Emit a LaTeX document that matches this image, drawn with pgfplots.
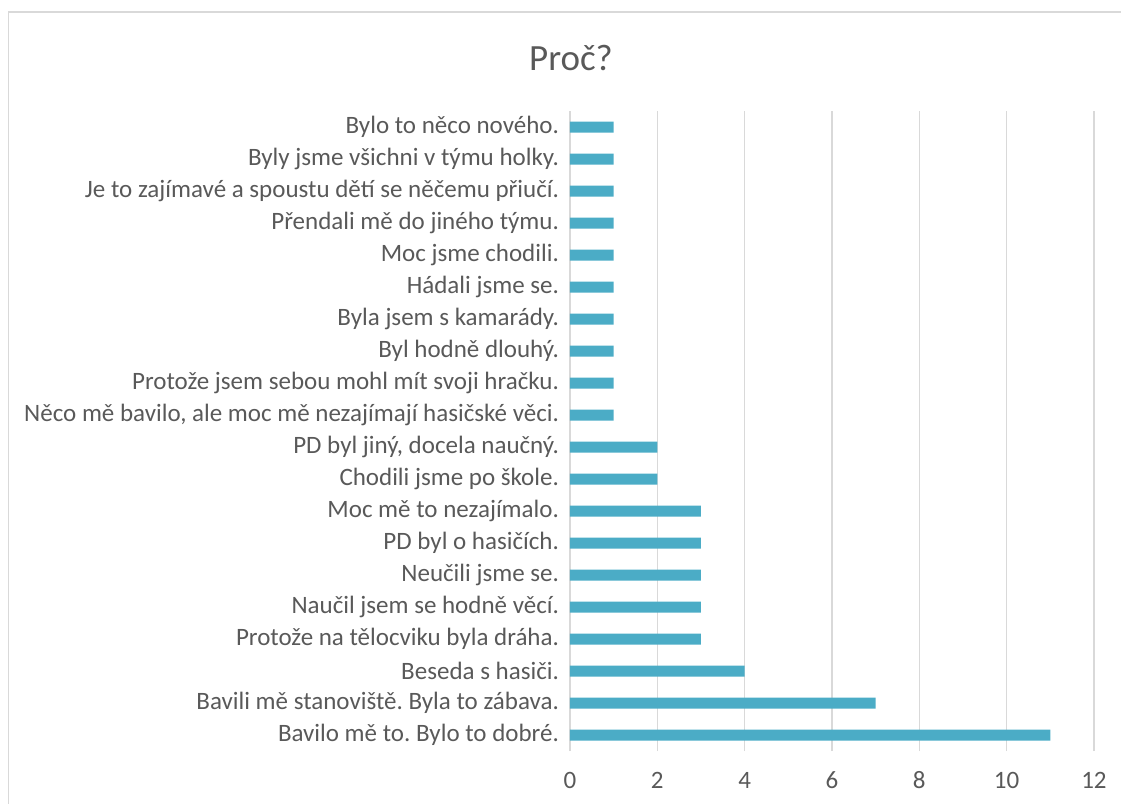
\documentclass[border=0pt]{standalone}
\usepackage{fontspec}
\setmainfont{Carlito}
\usepackage{pgfplots}
\pgfplotsset{compat=1.18}
\definecolor{barc}{HTML}{4BACC6}
\definecolor{txt}{HTML}{595959}
\definecolor{gridc}{HTML}{D9D9D9}
\frenchspacing
\begin{document}
\begin{tikzpicture}[x=1pt,y=1pt]
% 1 px = 0.5 pt; origin = lower left of the plot area
\useasboundingbox (-285pt,-26.5pt) rectangle (275.5pt,375.5pt);
\draw[gridc, line width=0.9pt] (-280.75pt,-26.5pt) -- (-280.75pt,369.5pt) -- (275.5pt,369.5pt);
\begin{axis}[
  at={(0pt,0pt)}, anchor=south west,
  scale only axis,
  width=262pt, height=320pt,
  xbar, bar width=5.5pt,
  xmin=0, xmax=12,
  xtick={0,2,...,12},
  ymin=-0.5, ymax=19.5,
  ytick={0,...,19},
  yticklabels={
    Bavilo mě to. Bylo to dobré.,
    Bavili mě stanoviště. Byla to zábava.,
    Beseda s hasiči.,
    Protože na tělocviku byla dráha.,
    Naučil jsem se hodně věcí.,
    Neučili jsme se.,
    PD byl o hasičích.,
    Moc mě to nezajímalo.,
    Chodili jsme po škole.,
    {PD byl jiný, docela naučný.},
    {Něco mě bavilo, ale moc mě nezajímají hasičské věci.},
    Protože jsem sebou mohl mít svoji hračku.,
    Byl hodně dlouhý.,
    Byla jsem s kamarády.,
    Hádali jsme se.,
    Moc jsme chodili.,
    Přendali mě do jiného týmu.,
    Je to zajímavé a spoustu dětí se něčemu přiučí.,
    Byly jsme všichni v týmu holky.,
    Bylo to něco nového.},
  axis line style={draw=none},
  major tick length=0pt,
  xmajorgrids=true,
  grid style={gridc, line width=0.75pt},
  tick label style={font=\fontsize{12.5pt}{15pt}\selectfont, text=txt},
  yticklabel style={xshift=-2pt},
  xticklabel style={anchor=base, yshift=-18.5pt},
  /pgf/number format/assume math mode=true,
  clip=false,
]
\addplot[fill=barc, draw=none] coordinates {
  (11,0) (7,1) (4,2) (3,3) (3,4) (3,5) (3,6) (3,7) (2,8) (2,9)
  (1,10) (1,11) (1,12) (1,13) (1,14) (1,15) (1,16) (1,17) (1,18) (1,19)
};
\end{axis}
\node[text=txt, font=\fontsize{18.5pt}{22pt}\selectfont] at (0.5pt,346.5pt) {Proč?};
\end{tikzpicture}
\end{document}
